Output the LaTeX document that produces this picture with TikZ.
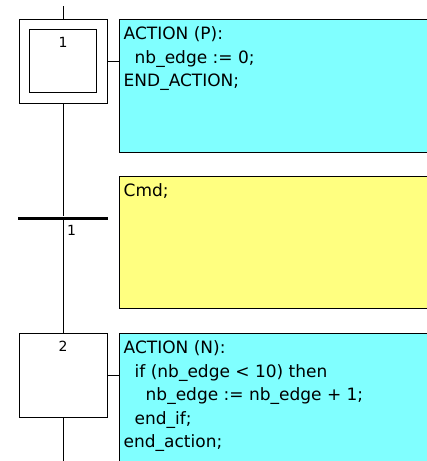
\documentclass[tikz,border=0pt]{standalone}
\usepackage{fontspec}
\newfontfamily\grafcetfont{DejaVu Sans}
\usetikzlibrary{positioning}
\definecolor{actcyan}{RGB}{128,255,255}
\definecolor{cmdyellow}{RGB}{255,255,128}

\begin{document}
\begin{tikzpicture}[x=1pt, y=1pt, node distance=11pt]
  % Define styles
  \tikzset{
    stepbox/.style={rectangle, draw, line width=1pt, minimum width=88pt, minimum height=84pt, inner sep=0pt},
    initbox/.style={rectangle, draw, line width=1pt, minimum width=67pt, minimum height=63pt, inner sep=0pt},
    actbox/.style={rectangle, draw, line width=1pt, minimum width=320pt, inner sep=0pt},
    code/.style={align=left, inner sep=0pt, font=\grafcetfont\fontsize{17}{23.5}\selectfont},
    num/.style={inner sep=0pt, font=\grafcetfont\fontsize{14}{14}\selectfont},
    trans/.style={rectangle, fill=black, minimum width=90pt, minimum height=3pt, inner sep=0pt},
    line/.style={draw, line width=1pt}
  }
  \clip (0,0) rectangle (427,-461);

  % Place nodes
  \coordinate (top) at (63,-6);
  \node [stepbox] (step1) at (63,-61) {};
  \node [initbox] (init1) at (step1) {};
  \node [num, below=8pt of init1.north] (num1) {1};
  \node [actbox, fill=actcyan, minimum height=133pt, right=11pt of step1.north east, anchor=north west] (act1) {};
  \node [code, below right=8pt and 5pt of act1.north west] (code1)
    {ACTION (P):\\
     \hspace*{11pt}nb\_edge := 0;\\
     END\_ACTION;};

  \node [trans] (tr1) at (63,-218) {};
  \node [num, below right=5pt and 4pt of tr1.south] (trnum1) {1};
  \node [actbox, fill=cmdyellow, minimum height=132pt, below=23pt of act1.south west, anchor=north west] (cmd1) {};
  \node [code, below right=8pt and 5pt of cmd1.north west] (cmdtext1) {Cmd;};

  \node [stepbox, below=229pt of step1] (step2) {};
  \node [num, below=8pt of step2.north] (num2) {2};
  \node [actbox, fill=actcyan, minimum height=140pt, right=11pt of step2.north east, anchor=north west] (act2) {};
  \node [code, below right=8pt and 5pt of act2.north west] (code2)
    {ACTION (N):\\
     \hspace*{11pt}if (nb\_edge < 10) then\\
     \hspace*{22pt}nb\_edge := nb\_edge + 1;\\
     \hspace*{11pt}end\_if;\\
     end\_action;};
  \coordinate (bottom) at (63,-461);

  % Draw links
  \path [line] (top) -- (step1);
  \path [line] (step1) -- (tr1);
  \path [line] (tr1) -- (step2);
  \path [line] (step2) -- (bottom);
  \path [line] (step1.east) -- (act1.west |- step1.east);
  \path [line] (step2.east) -- (act2.west |- step2.east);
\end{tikzpicture}
\end{document}
